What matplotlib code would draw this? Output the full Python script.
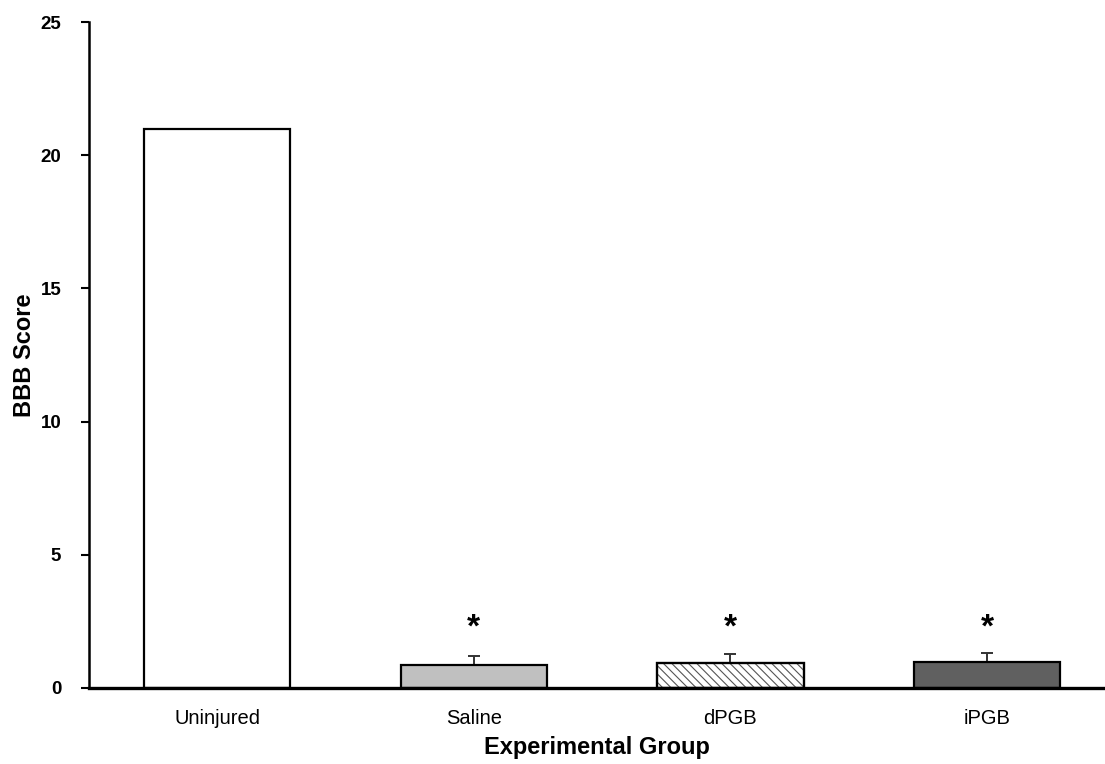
import matplotlib
matplotlib.use("Agg")
import matplotlib.pyplot as plt

groups = ["Uninjured", "Saline", "dPGB", "iPGB"]
means = [21.0, 0.86, 0.92, 0.98]
errors = [0.0, 0.33, 0.37, 0.35]
significant = [False, True, True, True]
yticks = [0, 5, 10, 15, 20, 25]

plt.rcParams['font.family'] = ['Liberation Sans', 'DejaVu Sans']
plt.rcParams['hatch.linewidth'] = 0.8

fig = plt.figure(figsize=(11.05, 7.64), dpi=100)
ax = fig.add_axes([0.0805, 0.0995, 0.9195, 0.8715])

x = list(range(len(groups)))
faces = ["white", "#c0c0c0", "white", "#606060"]
hatches = [None, None, "\\\\\\\\", None]
for xi, m, fc, h in zip(x, means, faces, hatches):
    b = ax.bar(xi, m, width=0.57, color=fc, edgecolor="black", linewidth=1.6,
               hatch=h, zorder=2)
    if h:
        b[0].set_edgecolor("#555555")
        ax.bar(xi, m, width=0.57, color="none", edgecolor="black", linewidth=1.6, zorder=3)

for xi, m, e in zip(x, means, errors):
    if e > 0:
        ax.errorbar(xi, m, yerr=[[0], [e]], fmt="none", ecolor="#333333",
                    elinewidth=1.4, capsize=4, capthick=1.4, zorder=1)

for xi, s in zip(x, significant):
    if s:
        ax.text(xi, 2.25, "*", ha="center", va="center", fontsize=24, fontweight="bold")

ax.set_xlim(-0.5, 3.46)
ax.set_ylim(0, 25)
ax.set_yticks(yticks)
ax.set_yticklabels([str(t) for t in yticks], fontsize=13.5, fontweight="bold")
ax.set_xticks(x)
ax.set_xticklabels(groups, fontsize=14.5)
ax.tick_params(axis="x", length=0, pad=15)
ax.tick_params(axis="y", direction="out", length=6, width=1.5, pad=14)
for s in ["top", "right"]:
    ax.spines[s].set_visible(False)
ax.spines["left"].set_linewidth(1.8)
ax.spines["bottom"].set_linewidth(2.4)
ax.set_ylabel("BBB Score", fontsize=17, fontweight="bold", labelpad=3)
ax.set_xlabel("Experimental Group", fontsize=17, fontweight="bold", labelpad=6)

fig.savefig("out.png", dpi=100)
